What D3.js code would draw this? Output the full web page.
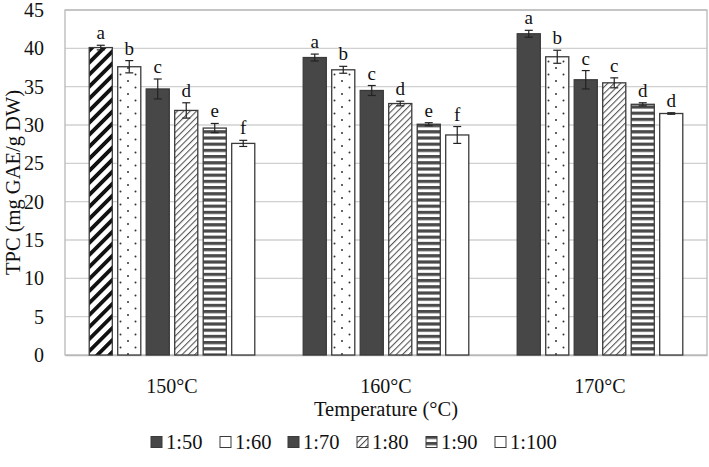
<!DOCTYPE html>
<html><head><meta charset="utf-8">
<script src="https://cdn.jsdelivr.net/npm/d3@7"></script>
<style>body{margin:0;background:#fff}svg{display:block}text{font-family:"Liberation Serif","Times New Roman",serif;fill:#111}</style>
</head><body><svg id="c" width="709" height="467"></svg>
<script>
const temps = ["150°C", "160°C", "170°C"];
const ratios = ["1:50", "1:60", "1:70", "1:80", "1:90", "1:100"];
const values = [
  [40.1, 37.6, 34.7, 31.9, 29.6, 27.6],
  [38.8, 37.2, 34.5, 32.8, 30.1, 28.7],
  [41.9, 38.9, 35.9, 35.5, 32.7, 31.5]
];
const errors = [
  [0.3, 0.8, 1.3, 1.0, 0.6, 0.4],
  [0.45, 0.45, 0.65, 0.3, 0.2, 1.1],
  [0.45, 0.85, 1.2, 0.65, 0.2, 0.1]
];
const letters = [
  ["a", "b", "c", "d", "e", "f"],
  ["a", "b", "c", "d", "e", "f"],
  ["a", "b", "c", "c", "d", "d"]
];
const yTicks = [0, 5, 10, 15, 20, 25, 30, 35, 40, 45];

const svg = d3.select("#c");
const m = {l: 65, r: 707, t: 10, b: 355};
const defs = svg.append("defs");
const p1 = defs.append("pattern").attr("id","wide").attr("patternUnits","userSpaceOnUse").attr("width",8.5).attr("height",8.5).attr("patternTransform","rotate(-45)");
p1.append("rect").attr("width",8.5).attr("height",8.5).attr("fill","#fff");
p1.append("rect").attr("width",8.5).attr("height",3.8).attr("fill","#111");
const p2 = defs.append("pattern").attr("id","dots").attr("patternUnits","userSpaceOnUse").attr("width",15).attr("height",13);
p2.append("rect").attr("width",15).attr("height",13).attr("fill","#fff");
p2.append("circle").attr("cx",3).attr("cy",3).attr("r",1).attr("fill","#333");
p2.append("circle").attr("cx",10.5).attr("cy",9.5).attr("r",1).attr("fill","#333");
const p3 = defs.append("pattern").attr("id","hatch").attr("patternUnits","userSpaceOnUse").attr("width",4.5).attr("height",4.5).attr("patternTransform","rotate(45)");
p3.append("rect").attr("width",4.5).attr("height",4.5).attr("fill","#fff");
p3.append("rect").attr("width",1.1).attr("height",4.5).attr("fill","#555");
const p4 = defs.append("pattern").attr("id","hstripe").attr("patternUnits","userSpaceOnUse").attr("width",6).attr("height",6.2);
p4.append("rect").attr("width",6).attr("height",6.2).attr("fill","#fff");
p4.append("rect").attr("width",6).attr("height",3.2).attr("fill","#4a4a4a");

const dark = "#474747";
const fills = ["url(#wide)", "url(#dots)", dark, "url(#hatch)", "url(#hstripe)", "#fff"];
const legendFills = [dark, "#fff", dark, "url(#hatch)", "url(#hstripe)", "#fff"];
function fillFor(g, i){ return (i === 0 && g > 0) ? dark : fills[i]; }

const x0 = d3.scaleBand().domain(temps).range([m.l, m.r]).padding(0);
const x1 = d3.scaleBand().domain(ratios).range([0, x0.bandwidth()]).paddingInner(0.19).paddingOuter(0.85);
const y = d3.scaleLinear().domain([0, 45]).range([m.b, m.t]);

svg.append("g").selectAll("line").data(yTicks.filter(d=>d>0)).join("line")
  .attr("x1", m.l).attr("x2", m.r).attr("y1", d=>y(d)).attr("y2", d=>y(d))
  .attr("stroke", "#d0d0d0").attr("stroke-width", 1.3);
svg.append("rect").attr("x", m.l).attr("y", m.t).attr("width", m.r-m.l).attr("height", m.b-m.t)
  .attr("fill","none").attr("stroke","#b8b8b8").attr("stroke-width",1.3);

const yAxis = d3.axisLeft(y).tickValues(yTicks).tickSize(0).tickPadding(21);
const ya = svg.append("g").attr("transform", `translate(${m.l},0)`).call(yAxis);
ya.select(".domain").remove();
ya.selectAll("text").attr("font-size", 20).attr("fill","#111");

const xAxis = d3.axisBottom(x0).tickSize(0).tickPadding(24);
const xa = svg.append("g").attr("transform", `translate(0,${m.b})`).call(xAxis);
xa.select(".domain").attr("stroke","#b8b8b8").attr("stroke-width",1.3);
xa.selectAll("text").attr("font-size", 20).attr("fill","#111");

const groups = svg.append("g").selectAll("g").data(temps).join("g")
  .attr("transform", d=>`translate(${x0(d)},0)`);
groups.each(function(t, g){
  const sel = d3.select(this);
  ratios.forEach((r, i) => {
    const v = values[g][i], e = errors[g][i];
    const bx = x1(r), bw = x1.bandwidth(), cx = bx + bw/2;
    sel.append("rect").attr("x", bx).attr("y", y(v)).attr("width", bw).attr("height", y(0)-y(v))
      .attr("fill", fillFor(g, i)).attr("stroke", "#3a3a3a").attr("stroke-width", 1.3);
    const eg = sel.append("g").attr("stroke", "#222").attr("stroke-width", 1.2);
    eg.append("line").attr("x1", cx).attr("x2", cx).attr("y1", y(v+e)).attr("y2", y(v-e));
    eg.append("line").attr("x1", cx-4).attr("x2", cx+4).attr("y1", y(v+e)).attr("y2", y(v+e));
    eg.append("line").attr("x1", cx-4).attr("x2", cx+4).attr("y1", y(v-e)).attr("y2", y(v-e));
    sel.append("text").attr("x", cx).attr("y", y(v+e) - 6).attr("text-anchor", "middle")
      .attr("font-size", 19).text(letters[g][i]);
  });
});

svg.append("text").attr("transform", `translate(13,${(m.t+m.b)/2}) rotate(-90)`)
  .attr("text-anchor","middle").attr("dominant-baseline","central").attr("font-size", 20.5).text("TPC (mg GAE/g DW)");
svg.append("text").attr("x", (m.l+m.r)/2).attr("y", 416).attr("text-anchor","middle").attr("font-size", 20.5).text("Temperature (°C)");

const legX = [151, 220, 288, 357, 426, 495];
const leg = svg.append("g");
ratios.forEach((r, i) => {
  const lg = leg.append("g").attr("transform", `translate(${legX[i]},442)`);
  lg.append("rect").attr("x", 0).attr("y", -5.5).attr("width", 11).attr("height", 11)
    .attr("fill", legendFills[i]).attr("stroke", "#3a3a3a").attr("stroke-width", 1);
  lg.append("text").attr("x", 15).attr("y", 0).attr("dominant-baseline","central").attr("font-size", 20.5).text(r);
});
</script></body></html>
